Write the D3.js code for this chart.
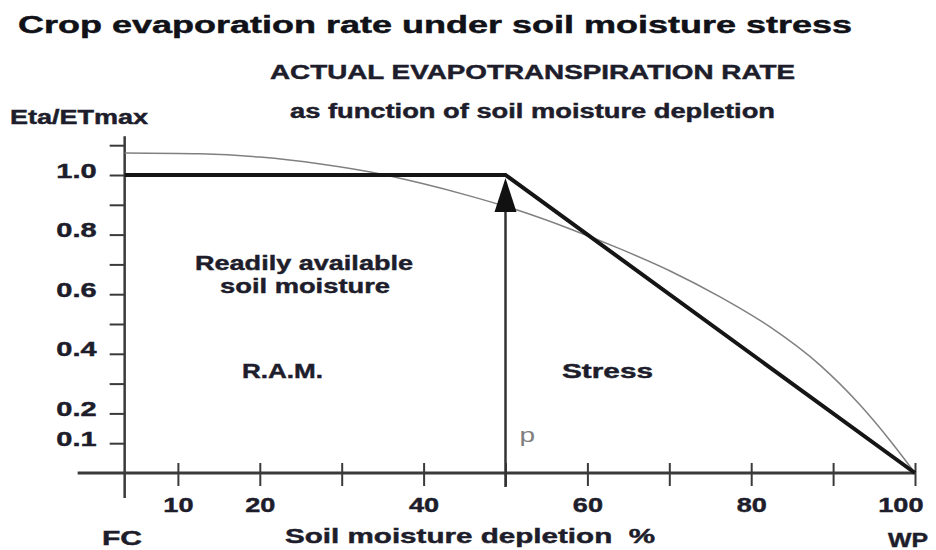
<!DOCTYPE html>
<html>
<head>
<meta charset="utf-8">
<script src="https://cdn.jsdelivr.net/npm/d3@7"></script>
<style>
  html, body { margin: 0; padding: 0; background: #ffffff; }
  svg { display: block; }
  text { font-family: "Liberation Sans", Arial, Helvetica, sans-serif; font-weight: bold; fill: #1d1d2b;
         stroke: #1d1d2b; stroke-width: 0.45px; paint-order: stroke; }
</style>
</head>
<body>
<svg id="chart" width="936" height="550"></svg>
<script>
// ---- Data -------------------------------------------------------------
// Soil moisture depletion (%) tick positions and the ones that carry a label
const depletionTicks = [10, 20, 30, 40, 50, 60, 70, 80, 90, 100];
const depletionLabels = [10, 20, 40, 60, 80, 100];

// Eta/ETmax tick positions and labelled values
const ratioTicks = [0.1, 0.2, 0.3, 0.4, 0.5, 0.6, 0.7, 0.8, 0.9, 1.0, 1.1];
const ratioLabels = [0.1, 0.2, 0.4, 0.6, 0.8, 1.0];

// Depletion value where the vertical axis stands (field capacity side)
const axisDepletion = 3.5;
// Critical depletion p: start of moisture stress
const criticalDepletion = 50;

// Idealised response: full rate up to p, then linear fall to zero at wilting point
const rampDepletion = [axisDepletion, criticalDepletion, 100];
const rampRatio = [1.0, 1.0, 0.0];

// Smooth measured-style response curve
const curveDepletion = [3.5, 12.7, 20, 27.4, 33.5, 39.6, 45.6, 51.8, 57.9, 64, 70.1, 76.2, 82.3, 88.4, 93.3, 96.9, 100];
const curveRatio = [1.074, 1.071, 1.060, 1.037, 1.010, 0.973, 0.930, 0.879, 0.819, 0.752, 0.678, 0.591, 0.490, 0.362, 0.228, 0.111, 0.0];

// ---- Setup ------------------------------------------------------------
const svg = d3.select("#chart");
const x = d3.scaleLinear().domain([0, 100]).range([96, 915]);
const y = d3.scaleLinear().domain([0, 1]).range([473, 175]);
const axisX = x(axisDepletion);

// Widen text horizontally by factor k (the lettering is set wide)
function stretch(sel, k) {
  sel.each(function () {
    const w = this.getComputedTextLength();
    if (w > 0) d3.select(this).attr("textLength", w * k).attr("lengthAdjust", "spacingAndGlyphs");
  });
}
// Fit text to an exact width
function fit(sel, width) {
  sel.attr("textLength", width).attr("lengthAdjust", "spacingAndGlyphs");
}

// ---- Titles and annotations ------------------------------------------
const titles = [
  { text: "Crop evaporation rate under soil moisture stress", x: 18, y: 33, size: 24, w: 834, color: "#111118" },
  { text: "ACTUAL EVAPOTRANSPIRATION RATE", x: 270, y: 79, size: 20, w: 525 },
  { text: "as function of soil moisture depletion", x: 290, y: 118, size: 20, w: 485 },
  { text: "Eta/ETmax", x: 10, y: 124, size: 20, w: 138 },
  { text: "Readily available", x: 195, y: 270, size: 21, w: 218 },
  { text: "soil moisture", x: 220, y: 293, size: 21, w: 170 },
  { text: "R.A.M.", x: 242, y: 378, size: 21, w: 81 },
  { text: "Stress", x: 562, y: 378, size: 21, w: 91 },
  { text: "FC", x: 102, y: 545, size: 21, w: 40 },
  { text: "Soil moisture depletion  %", x: 285, y: 543, size: 21, w: 370 },
  { text: "WP", x: 888, y: 547, size: 21, w: 40 }
];
titles.forEach(t => {
  const el = svg.append("text")
    .attr("x", t.x).attr("y", t.y)
    .style("font-size", t.size + "px")
    .style("white-space", "pre")
    .text(t.text);
  if (t.color) el.style("fill", t.color).style("stroke", t.color);
  fit(el, t.w);
});

// ---- Axes -------------------------------------------------------------
const axisColor = "#3a3a3a";

// Vertical axis line, running a little above 1.1 and below zero
svg.append("line")
  .attr("x1", axisX).attr("x2", axisX)
  .attr("y1", y(1.13)).attr("y2", y(0) + 25)
  .attr("stroke", axisColor).attr("stroke-width", 2.5);

// Horizontal axis line, starting left of the vertical axis
svg.append("line")
  .attr("x1", axisX - 47).attr("x2", x(100))
  .attr("y1", y(0)).attr("y2", y(0))
  .attr("stroke", axisColor).attr("stroke-width", 3);

const yAxis = svg.append("g")
  .attr("transform", `translate(${axisX},0)`)
  .attr("color", axisColor)
  .call(d3.axisLeft(y).tickValues(ratioTicks).tickSize(15).tickPadding(0)
    .tickFormat(d => ratioLabels.includes(d) ? d3.format(".1f")(d) : ""));
yAxis.select(".domain").remove();
yAxis.attr("font-family", null).attr("font-size", null);
yAxis.selectAll(".tick line").attr("stroke-width", 2);
yAxis.selectAll(".tick text")
  .attr("x", -28).attr("dy", null).attr("y", 2)
  .style("font-size", "21px")
  .call(stretch, 1.38);

const xAxis = svg.append("g")
  .attr("transform", `translate(0,${y(0)})`)
  .attr("color", axisColor)
  .call(d3.axisBottom(x).tickValues(depletionTicks).tickSize(13).tickPadding(0)
    .tickFormat(d => depletionLabels.includes(d) ? String(d) : ""));
xAxis.select(".domain").remove();
xAxis.attr("font-family", null).attr("font-size", null);
xAxis.selectAll(".tick line").attr("y1", -10).attr("stroke-width", 2);
xAxis.selectAll(".tick text")
  .attr("y", 39).attr("dy", null)
  .style("font-size", "21px")
  .call(stretch, 1.29);
xAxis.selectAll(".tick text").filter(d => d === 100)
  .attr("text-anchor", "end").attr("x", 8);

// ---- Response lines ---------------------------------------------------
svg.append("path")
  .datum(d3.zip(curveDepletion, curveRatio))
  .attr("fill", "none")
  .attr("stroke", "#808080")
  .attr("stroke-width", 1.5)
  .attr("d", d3.line().x(d => x(d[0])).y(d => y(d[1])).curve(d3.curveMonotoneX));

svg.append("path")
  .datum(d3.zip(rampDepletion, rampRatio))
  .attr("fill", "none")
  .attr("stroke", "#151515")
  .attr("stroke-width", 4)
  .attr("stroke-linejoin", "miter")
  .attr("d", d3.line().x(d => x(d[0])).y(d => y(d[1])));

// ---- Critical depletion marker (arrow up to the break point) ----------
const px = x(criticalDepletion);
svg.append("line")
  .attr("x1", px).attr("x2", px)
  .attr("y1", y(0) + 14).attr("y2", y(1) + 30)
  .attr("stroke", "#333").attr("stroke-width", 2.5);
svg.append("path")
  .attr("d", `M${px},${y(1) + 3} L${px - 11},${y(1) + 37} L${px + 11},${y(1) + 37} Z`)
  .attr("fill", "#111");

svg.append("text")
  .attr("x", px + 14).attr("y", y(0) - 31)
  .style("font-size", "20px")
  .style("font-weight", "normal")
  .style("fill", "#7f7f7f")
  .style("stroke", "none")
  .text("p")
  .call(stretch, 1.4);
</script>
</body>
</html>
